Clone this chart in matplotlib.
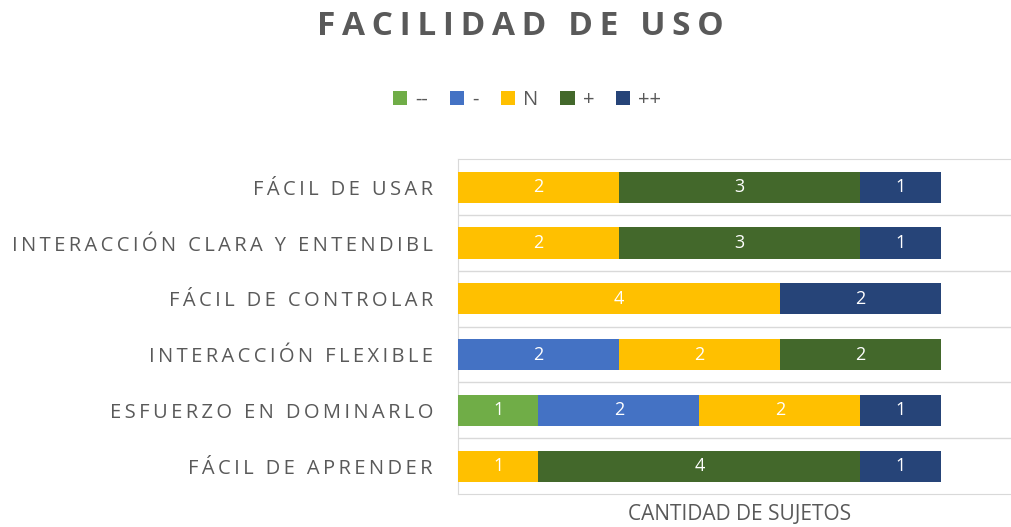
import numpy as np
import matplotlib
matplotlib.use('Agg')
import matplotlib.pyplot as plt

# datos (de arriba hacia abajo)
categorias = ['FÁCIL DE USAR', 'INTERACCIÓN CLARA Y ENTENDIBL', 'FÁCIL DE CONTROLAR',
              'INTERACCIÓN FLEXIBLE', 'ESFUERZO EN DOMINARLO', 'FÁCIL DE APRENDER']
series = ['--', '-', 'N', '+', '++']
muy_neg = [0, 0, 0, 0, 1, 0]
neg = [0, 0, 0, 2, 2, 0]
neutro = [2, 2, 4, 2, 2, 1]
pos = [3, 3, 0, 2, 0, 4]
muy_pos = [1, 1, 2, 0, 1, 1]
colores = ['#70AD47', '#4472C4', '#FFC000', '#43682B', '#264478']

plt.rcParams['font.family'] = ['Open Sans', 'DejaVu Sans']
gris = '#595959'


def espaciado(s, sep='\u2009'):
    # Excel usa letras espaciadas en estas etiquetas
    return sep.join(s)


fig = plt.figure(figsize=(10.12, 5.27), dpi=100)
ax = fig.add_axes([458 / 1012, 0.0626, 563.5 / 1012, 0.635])

valores = [muy_neg, neg, neutro, pos, muy_pos]
y = np.arange(len(categorias))
izq = np.zeros(len(categorias))
for nombre, vals, col in zip(series, valores, colores):
    vals = np.array(vals)
    bars = ax.barh(y, vals, left=izq, height=0.56, color=col, label=nombre, zorder=3)
    for b, v in zip(bars, vals):
        if v > 0:
            ax.text(b.get_x() + b.get_width() / 2, b.get_y() + b.get_height() / 2, str(v),
                    ha='center', va='center', color='white', fontsize=13, zorder=4)
    izq += vals

ax.set_xlim(0, 7)
ax.set_ylim(len(categorias) - 0.5, -0.5)
ax.set_yticks(y)
ax.set_yticklabels([espaciado(c) for c in categorias], color=gris, fontsize=14.5)
ax.tick_params(axis='y', length=0, pad=18)
ax.set_xticks([])
for i in range(len(categorias) - 1):
    ax.axhline(i + 0.5, color='#D9D9D9', lw=1, zorder=1)
for s in ax.spines.values():
    s.set_color('#D9D9D9')
ax.set_xlabel('CANTIDAD DE SUJETOS', color=gris, fontsize=15, va='center')
ax.xaxis.set_label_coords(282 / 563.5, -(515 - 494) / 335)

fig.text(0.514, 0.949, espaciado('FACILIDAD DE USO', '\u2009'), ha='center', va='center',
         fontsize=24, fontweight='bold', color=gris)

fig.legend(loc='center', bbox_to_anchor=(0.521, 0.81), ncol=5, frameon=False,
           fontsize=14.5, handlelength=0.7, handleheight=0.7, handletextpad=0.4,
           columnspacing=1.1, labelcolor=gris)

fig.savefig('out.png', dpi=100)
